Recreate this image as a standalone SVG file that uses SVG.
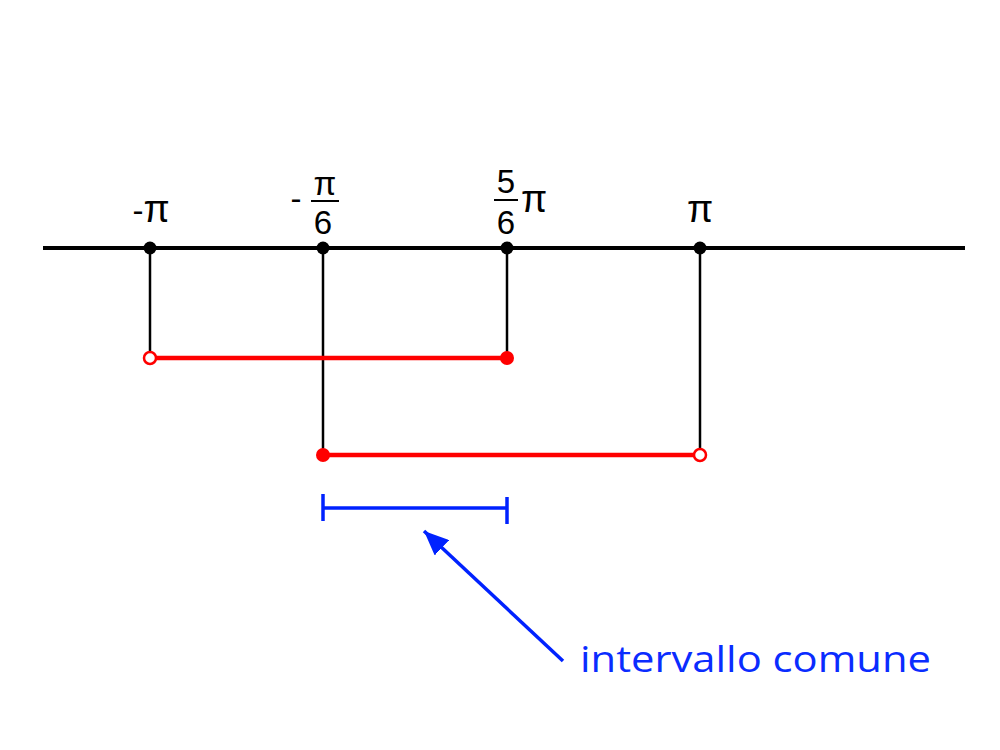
<svg xmlns="http://www.w3.org/2000/svg" width="1000" height="750" viewBox="0 0 1000 750">
<style>
.lbl{font-family:"Liberation Sans","Open Sans",sans-serif;font-size:33px;fill:#000}
.pi{font-size:38px}
.blk{stroke:#000;stroke-width:2.5;fill:none}
.red{stroke:#ff0000;stroke-width:4.5;fill:none}
.blu{stroke:#0022ff;stroke-width:3.5;fill:none}
</style>
<defs>
<marker id="ah" markerWidth="7" markerHeight="6" refX="7" refY="3" orient="auto" markerUnits="strokeWidth">
<path d="M0,0 L7,3 L0,6 z" fill="#0022ff"/>
</marker>
</defs>
<rect width="1000" height="750" fill="#fff"/>
<g id="connectors">
<line x1="150" y1="248" x2="150" y2="358" class="blk"/>
<line x1="323" y1="248" x2="323" y2="456" class="blk"/>
<line x1="507" y1="248" x2="507" y2="358" class="blk"/>
<line x1="700" y1="248" x2="700" y2="455" class="blk"/>
<line x1="150" y1="358" x2="507" y2="358" class="red"/>
<line x1="323" y1="455" x2="700" y2="455" class="red"/>
<line x1="323" y1="508" x2="507" y2="508" class="blu"/>
<line x1="323" y1="494" x2="323" y2="521" class="blu"/>
<line x1="507" y1="497" x2="507" y2="524" class="blu"/>
<line x1="563" y1="661" x2="424" y2="531" stroke="#0022ff" stroke-width="3.5" marker-end="url(#ah)"/>
</g>
<g id="axis">
<line x1="43" y1="248" x2="965" y2="248" stroke="#000" stroke-width="4"/>
</g>
<g id="p-neg-pi">
<circle cx="150" cy="248" r="6.5" fill="#000"/>
<text x="151" y="222" class="lbl" text-anchor="middle">-<tspan class="pi">π</tspan></text>
</g>
<g id="p-neg-pi6">
<circle cx="323" cy="248" r="6.5" fill="#000"/>
<text x="296" y="210" class="lbl" text-anchor="middle">-</text>
<text x="325" y="195" class="lbl" font-size="36" text-anchor="middle">π</text>
<line x1="311" y1="201" x2="339" y2="201" stroke="#000" stroke-width="2"/>
<text x="323" y="234" class="lbl" text-anchor="middle">6</text>
</g>
<g id="p-5pi6">
<circle cx="507" cy="248" r="6.5" fill="#000"/>
<text x="506" y="193" class="lbl" text-anchor="middle">5</text>
<line x1="494" y1="200" x2="518" y2="200" stroke="#000" stroke-width="2"/>
<text x="506" y="234" class="lbl" text-anchor="middle">6</text>
<text x="534" y="212" class="lbl pi" text-anchor="middle">π</text>
</g>
<g id="p-pi">
<circle cx="700" cy="248" r="6.5" fill="#000"/>
<text x="700" y="222" class="lbl pi" text-anchor="middle">π</text>
</g>
<g id="ends">
<circle cx="150" cy="358" r="6" fill="#fff" stroke="#ff0000" stroke-width="2.5"/>
<circle cx="507" cy="358" r="7" fill="#ff0000"/>
<circle cx="323" cy="455" r="7" fill="#ff0000"/>
<circle cx="700" cy="455" r="6" fill="#fff" stroke="#ff0000" stroke-width="2.5"/>
</g>
<g id="label">
<text x="580" y="672" font-family="'Open Sans','Liberation Sans',sans-serif" font-size="36" fill="#0a2cff" textLength="351" lengthAdjust="spacingAndGlyphs">intervallo comune</text>
</g>
</svg>
